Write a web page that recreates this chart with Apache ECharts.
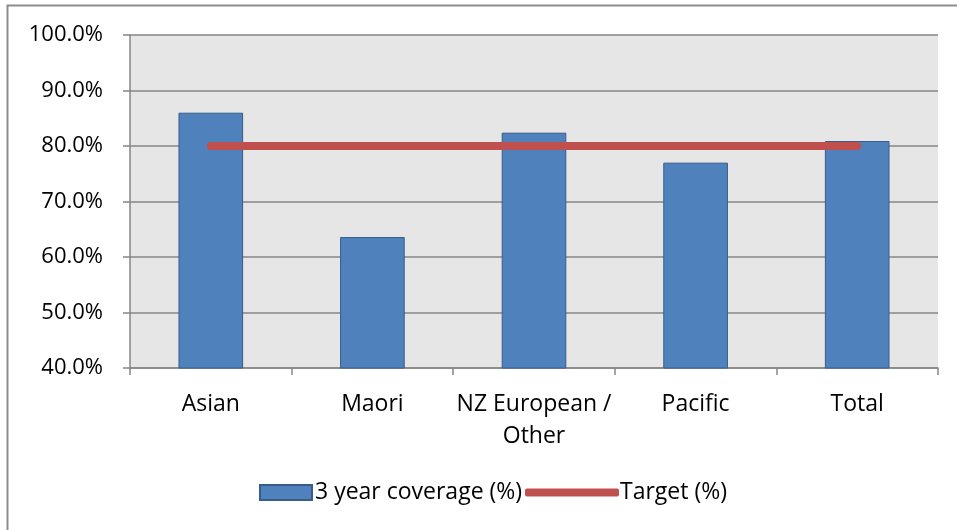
<!DOCTYPE html>
<html>
<head>
<meta charset="utf-8">
<script src="https://cdn.jsdelivr.net/npm/echarts@6/dist/echarts.min.js"></script>
<style>
  html, body {margin: 0; padding: 0; background: #fff;}
  #chart {width: 957px; height: 530px;}
</style>
</head>
<body>
<div id="chart"></div>
<script>
// data
const categories = ['Asian', 'Maori', 'NZ European /\nOther', 'Pacific', 'Total'];
const coverage = [86.0, 63.6, 82.4, 77.0, 80.9];
const target = [80, 80, 80, 80, 80];

const font = 'Open Sans';
const fontSize = 23;
const gridGrey = '#868686';

const chart = echarts.init(document.getElementById('chart'));

const option = {
  animation: false,
  backgroundColor: '#fff',
  textStyle: {fontFamily: font, color: '#000'},
  graphic: [{
    type: 'rect',
    shape: {x: 7.5, y: 5.5, width: 1000, height: 600},
    style: {fill: 'none', stroke: '#8c8c8c', lineWidth: 2},
    silent: true
  }],
  grid: {
    left: 130, right: 19, top: 35, bottom: 162,
    show: true, backgroundColor: '#e6e6e6', borderWidth: 0
  },
  legend: [{
    left: 254, top: 476,
    itemWidth: 52, itemHeight: 15, itemGap: 0,
    data: [{name: '3 year coverage (%)', icon: 'rect'}],
    textStyle: {fontFamily: font, fontSize: fontSize, color: '#000', padding: [0, 0, 0, -2]}
  }, {
    left: 520, top: 476,
    itemWidth: 94, itemHeight: 8, itemGap: 0,
    data: [{name: 'Target (%)', icon: 'roundRect'}],
    textStyle: {fontFamily: font, fontSize: fontSize, color: '#000', padding: [0, 0, 0, -4]}
  }],
  xAxis: {
    type: 'category',
    data: categories,
    boundaryGap: true,
    axisLine: {lineStyle: {color: gridGrey, width: 1.5}},
    axisTick: {show: true, interval: 0, length: 7, lineStyle: {color: gridGrey, width: 1.5}},
    axisLabel: {
      interval: 0, fontFamily: font, fontSize: fontSize, color: '#000',
      margin: 20, lineHeight: 32
    }
  },
  yAxis: {
    type: 'value',
    min: 40, max: 100, interval: 10,
    axisLine: {show: true, lineStyle: {color: gridGrey, width: 1.5}},
    axisTick: {show: true, length: 7, lineStyle: {color: gridGrey, width: 1.5}},
    splitLine: {lineStyle: {color: gridGrey, width: 1.5}},
    axisLabel: {
      fontFamily: font, fontSize: 22, color: '#000', margin: 27,
      formatter: v => v.toFixed(1) + '%'
    }
  },
  series: [{
    name: '3 year coverage (%)',
    type: 'bar',
    data: coverage,
    barWidth: '40%',
    itemStyle: {color: '#4f81bd', borderColor: '#385d8a', borderWidth: 1}
  }, {
    name: 'Target (%)',
    type: 'line',
    data: target,
    symbol: 'none',
    itemStyle: {color: '#c0504d'},
    lineStyle: {color: '#c0504d', width: 8, cap: 'round'}
  }]
};

chart.setOption(option);
</script>
</body>
</html>
